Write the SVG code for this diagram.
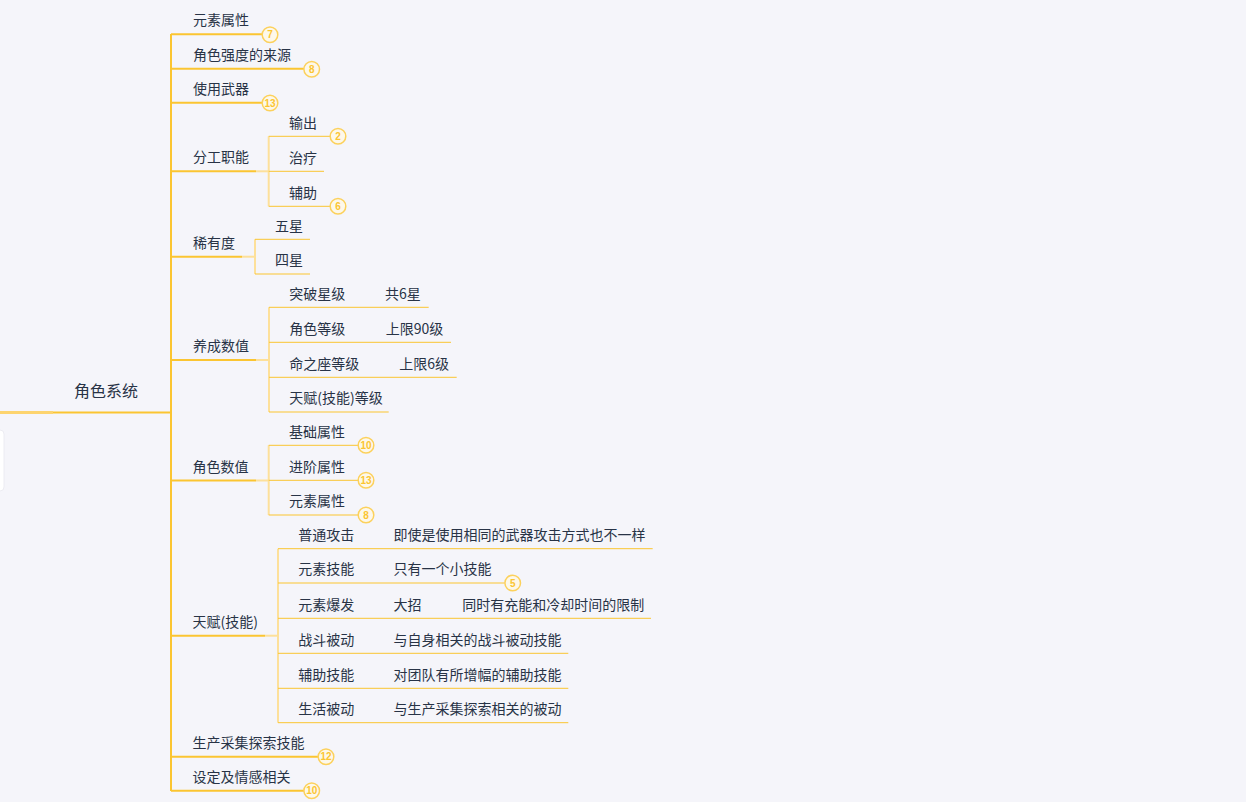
<svg xmlns="http://www.w3.org/2000/svg" width="1246" height="802" viewBox="0 0 1246 802">
<style>
.t{font-family:"Noto Sans CJK SC","Liberation Sans",sans-serif;font-size:14px;fill:#283346}
.r{font-size:16px}
.u{stroke:#fbc531;stroke-width:2;fill:none}
.s{stroke:#fbc531;stroke-width:1;fill:none}
.l{stroke:#fde09a;stroke-width:2;fill:none}
.b circle{fill:#fdf8ea;stroke:#fcd15c;stroke-width:1.5}
.b text{font-family:"Liberation Sans",Arial,sans-serif;font-size:10px;font-weight:bold;fill:#fbc531;text-anchor:middle}
</style>
<rect x="0" y="0" width="1246" height="802" fill="#f5f5fa"/>
<rect x="-10" y="430" width="14" height="61" rx="4" fill="#ffffff" stroke="#ececf2" stroke-width="1"/>
<g id="connectors">
<line x1="0" y1="412.5" x2="53" y2="412.5" stroke="#fdd46f" stroke-width="3"/>
<line class="u" x1="53" y1="412.5" x2="171" y2="412.5"/>
<line class="u" x1="171" y1="34" x2="171" y2="791"/>
<line class="l" x1="256" y1="171.3" x2="269" y2="171.3"/>
<line class="l" x1="268.7" y1="136.3" x2="268.7" y2="206.3"/>
<line class="l" x1="242" y1="256.7" x2="255" y2="256.7"/>
<line class="l" x1="255" y1="239.3" x2="255" y2="274"/>
<line class="l" x1="256" y1="360" x2="269" y2="360"/>
<line class="l" x1="269" y1="307.3" x2="269" y2="412"/>
<line class="l" x1="256" y1="480.5" x2="269" y2="480.5"/>
<line class="l" x1="268.7" y1="445.3" x2="268.7" y2="515"/>
<line class="l" x1="265" y1="635.7" x2="278" y2="635.7"/>
<line class="l" x1="278" y1="548.7" x2="278" y2="722.7"/>
</g>
<g id="root"><text class="t r" x="74" y="397">角色系统</text></g>
<g id="n1"><text class="t" x="193" y="25.3">元素属性</text><line class="u" x1="171" y1="34.3" x2="262" y2="34.3"/><g class="b"><circle cx="270" cy="34.8" r="7.8"/><text x="270" y="38.4">7</text></g></g>
<g id="n2"><text class="t" x="193" y="59.7">角色强度的来源</text><line class="u" x1="171" y1="68.7" x2="304" y2="68.7"/><g class="b"><circle cx="311.7" cy="69.2" r="7.8"/><text x="311.7" y="72.8">8</text></g></g>
<g id="n3"><text class="t" x="193" y="93.7">使用武器</text><line class="u" x1="171" y1="102.7" x2="262" y2="102.7"/><g class="b"><circle cx="270" cy="103" r="7.8"/><text x="270" y="106.6">13</text></g></g>
<g id="n4"><text class="t" x="193" y="162.3">分工职能</text><line class="u" x1="171" y1="171.3" x2="256" y2="171.3"/></g>
<g id="n4a"><text class="t" x="289" y="127.5">输出</text><line class="s" x1="268.7" y1="136.3" x2="330" y2="136.3"/><g class="b"><circle cx="338" cy="136.3" r="7.8"/><text x="338" y="139.9">2</text></g></g>
<g id="n4b"><text class="t" x="289" y="162.5">治疗</text><line class="s" x1="268.7" y1="171.3" x2="324" y2="171.3"/></g>
<g id="n4c"><text class="t" x="289" y="197.5">辅助</text><line class="s" x1="268.7" y1="206.3" x2="330" y2="206.3"/><g class="b"><circle cx="338" cy="206.3" r="7.8"/><text x="338" y="209.9">6</text></g></g>
<g id="n5"><text class="t" x="193" y="247.7">稀有度</text><line class="u" x1="171" y1="256.7" x2="242" y2="256.7"/></g>
<g id="n5a"><text class="t" x="275" y="230.5">五星</text><line class="s" x1="255" y1="239.3" x2="310" y2="239.3"/></g>
<g id="n5b"><text class="t" x="275" y="265.3">四星</text><line class="s" x1="255" y1="274" x2="310" y2="274"/></g>
<g id="n6"><text class="t" x="193" y="351">养成数值</text><line class="u" x1="171" y1="360" x2="256" y2="360"/></g>
<g id="n6a"><text class="t" x="289.3" y="298.5">突破星级</text><text class="t" x="385" y="298.5">共6星</text><line class="s" x1="269" y1="307.3" x2="428.7" y2="307.3"/></g>
<g id="n6b"><text class="t" x="289.3" y="333.5">角色等级</text><text class="t" x="385.7" y="333.5">上限90级</text><line class="s" x1="269" y1="342.3" x2="451" y2="342.3"/></g>
<g id="n6c"><text class="t" x="289.3" y="368.5">命之座等级</text><text class="t" x="399.3" y="368.5">上限6级</text><line class="s" x1="269" y1="377.3" x2="456.7" y2="377.3"/></g>
<g id="n6d"><text class="t" x="289.3" y="403.3">天赋(技能)等级</text><line class="s" x1="269" y1="412" x2="388.7" y2="412"/></g>
<g id="n7"><text class="t" x="192.5" y="471.5">角色数值</text><line class="u" x1="171" y1="480.5" x2="256" y2="480.5"/></g>
<g id="n7a"><text class="t" x="289" y="436.5">基础属性</text><line class="s" x1="268.7" y1="445.3" x2="358" y2="445.3"/><g class="b"><circle cx="366" cy="445.3" r="7.8"/><text x="366" y="448.9">10</text></g></g>
<g id="n7b"><text class="t" x="289" y="471.5">进阶属性</text><line class="s" x1="268.7" y1="480.3" x2="358" y2="480.3"/><g class="b"><circle cx="366" cy="480.3" r="7.8"/><text x="366" y="483.9">13</text></g></g>
<g id="n7c"><text class="t" x="289" y="506.3">元素属性</text><line class="s" x1="268.7" y1="515" x2="358" y2="515"/><g class="b"><circle cx="366" cy="515" r="7.8"/><text x="366" y="518.6">8</text></g></g>
<g id="n8"><text class="t" x="192.5" y="626.7">天赋(技能)</text><line class="u" x1="171" y1="635.7" x2="265" y2="635.7"/></g>
<g id="n8a"><text class="t" x="298.3" y="539.9">普通攻击</text><text class="t" x="393.5" y="539.9">即使是使用相同的武器攻击方式也不一样</text><line class="s" x1="278" y1="548.7" x2="652.7" y2="548.7"/></g>
<g id="n8b"><text class="t" x="298.3" y="574.2">元素技能</text><text class="t" x="393.5" y="574.2">只有一个小技能</text><line class="s" x1="278" y1="583" x2="504.7" y2="583"/><g class="b"><circle cx="512.7" cy="583" r="7.8"/><text x="512.7" y="586.6">5</text></g></g>
<g id="n8c"><text class="t" x="298.3" y="609.5">元素爆发</text><text class="t" x="393.5" y="609.5">大招</text><text class="t" x="462.3" y="609.5">同时有充能和冷却时间的限制</text><line class="s" x1="278" y1="618.3" x2="651" y2="618.3"/></g>
<g id="n8d"><text class="t" x="298.3" y="644.5">战斗被动</text><text class="t" x="393.5" y="644.5">与自身相关的战斗被动技能</text><line class="s" x1="278" y1="653.3" x2="568.3" y2="653.3"/></g>
<g id="n8e"><text class="t" x="298.3" y="679.5">辅助技能</text><text class="t" x="393.5" y="679.5">对团队有所增幅的辅助技能</text><line class="s" x1="278" y1="688.3" x2="568.3" y2="688.3"/></g>
<g id="n8f"><text class="t" x="298.3" y="713.9">生活被动</text><text class="t" x="393.5" y="713.9">与生产采集探索相关的被动</text><line class="s" x1="278" y1="722.7" x2="568.3" y2="722.7"/></g>
<g id="n9"><text class="t" x="192.5" y="747.7">生产采集探索技能</text><line class="u" x1="171" y1="756.7" x2="318" y2="756.7"/><g class="b"><circle cx="326" cy="756.7" r="7.8"/><text x="326" y="760.3">12</text></g></g>
<g id="n10"><text class="t" x="192.5" y="781.7">设定及情感相关</text><line class="u" x1="171" y1="790.7" x2="304" y2="790.7"/><g class="b"><circle cx="311.7" cy="790.7" r="7.8"/><text x="311.7" y="794.3">10</text></g></g>
</svg>
